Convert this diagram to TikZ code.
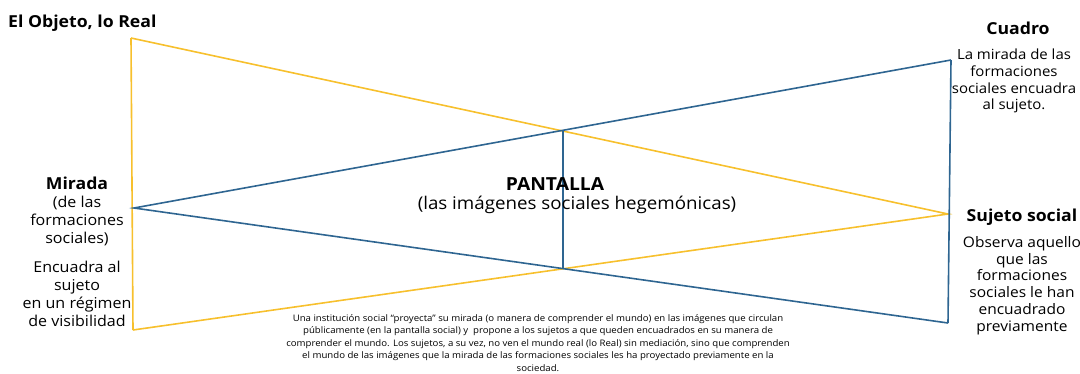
\documentclass[tikz,border=0pt]{standalone}
\usepackage{fontspec}
\setmainfont[FakeStretch=1.07]{Open Sans}
\usepackage{tikz}
\definecolor{gold}{RGB}{247,192,45}
\definecolor{steel}{RGB}{46,101,145}
\tikzstyle{goldline}=[draw=gold, line width=1.6pt]
\tikzstyle{steelline}=[draw=steel, line width=1.6pt]
\tikzstyle{label}=[inner sep=0pt, align=center, font=\fontsize{15}{18}\selectfont]
\tikzstyle{title}=[inner sep=0pt, align=center, font=\fontsize{16.5}{18}\selectfont\bfseries]
\tikzstyle{note}=[inner sep=0pt, align=center, font=\fontsize{9}{12.6}\selectfont]

\begin{document}
\begin{tikzpicture}[x=1pt, y=-1pt]
        \useasboundingbox (0, 0) rectangle (1080, 373);
        \coordinate (realtop) at (131, 38);
        \coordinate (realbot) at (133, 330);
        \coordinate (sujeto) at (948, 214);
        \coordinate (mirada) at (134, 208);
        \coordinate (cuadtop) at (951, 60);
        \coordinate (cuadbot) at (948, 323);
        \coordinate (pantop) at (563, 131);
        \coordinate (panbot) at (563, 269);
        \draw[goldline] (realtop) -- (realbot);
        \draw[goldline] (realtop) -- (sujeto) -- (realbot);
        \draw[steelline] (cuadtop) -- (cuadbot);
        \draw[steelline] (cuadtop) -- (mirada) -- (cuadbot);
        \draw[steelline] (pantop) -- (panbot);
        \node[title, anchor=west] (real) at (8, 23) {El Objeto, lo Real};
        \node[title] (miradat) at (77, 183) {Mirada};
        \node[label, anchor=north] (miradad) at (77, 196) {(de las\\formaciones\\sociales)};
        \node[label, anchor=north] (encuadra) at (77, 261) {Encuadra al\\sujeto\\en un régimen\\de visibilidad};
        \node[title] (cuadro) at (1018, 28) {Cuadro};
        \node[label, anchor=north, font=\fontsize{14}{16.7}\selectfont] (cuadrod) at (1014, 49) {La mirada de las\\formaciones\\sociales encuadra\\al sujeto.};
        \node[title] (sujetot) at (1022, 217) {Sujeto social};
        \node[label, anchor=north, font=\fontsize{14.5}{16.8}\selectfont] (sujetod) at (1022, 236) {Observa aquello\\que las\\formaciones\\sociales le han\\encuadrado\\previamente};
        \node[title, font=\fontsize{18}{20}\selectfont\bfseries] (pantalla) at (555, 184) {PANTALLA};
        \node[label, font=\fontsize{17.5}{20}\selectfont] (pantallad) at (577, 205) {(las imágenes sociales hegemónicas)};
        \node[note, anchor=north] (texto) at (538, 314) {Una institución social “proyecta” su mirada (o manera de comprender el mundo) en las imágenes que circulan\\públicamente (en la pantalla social) y~ propone a los sujetos a que queden encuadrados en su manera de\\comprender el mundo. Los sujetos, a su vez, no ven el mundo real (lo Real) sin mediación, sino que comprenden\\el mundo de las imágenes que la mirada de las formaciones sociales les ha proyectado previamente en la\\sociedad.};
    \end{tikzpicture}
\end{document}
